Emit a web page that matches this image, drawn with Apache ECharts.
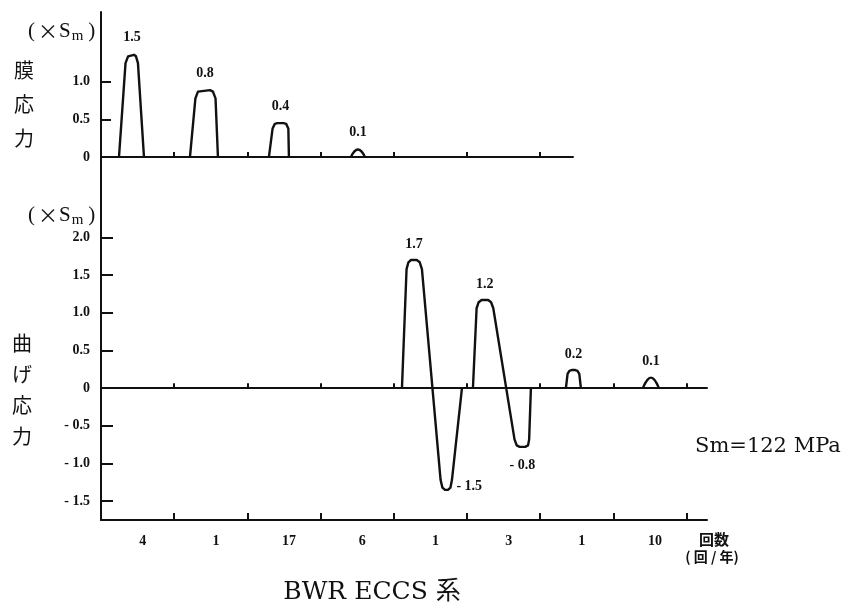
<!DOCTYPE html>
<html>
<head>
<meta charset="utf-8">
<script src="https://cdn.jsdelivr.net/npm/echarts@6/dist/echarts.min.js"></script>
<style>
  html, body { margin: 0; padding: 0; background: #fff; }
  #chart { width: 848px; height: 612px; }
</style>
</head>
<body>
<div id="chart"></div>
<script>
// 回数 (回/年) for each band on the x axis
const cycleLabels = ['4', '1', '17', '6', '1', '3', '1', '10']
const bandTicks = [1, 2, 3, 4, 5, 6, 7, 8]
const memTicks = [0, 0.5, 1.0]
const bendTicks = [-1.5, -1.0, -0.5, 0, 0.5, 1.0, 1.5, 2.0]

// 膜応力 pulses: [x (band units), y (×Sm)]
const memPulses = [
  [[0.246, 0], [0.335, 1.25], [0.370, 1.34], [0.395, 1.36], [0.450, 1.36], [0.478, 1.34], [0.505, 1.25], [0.587, 0]],
  [[1.216, 0], [1.290, 0.78], [1.325, 0.87], [1.352, 0.89], [1.490, 0.89], [1.530, 0.87], [1.565, 0.78], [1.598, 0]],
  [[2.295, 0], [2.345, 0.38], [2.375, 0.44], [2.410, 0.45], [2.495, 0.45], [2.530, 0.44], [2.560, 0.38], [2.568, 0]],
  [[3.415, 0], [3.511, 0.10], [3.607, 0]]
]
const memPeakLabels = ['1.5', '0.8', '0.4', '0.1']

// 曲げ応力 pulses
const bendPulses = [
  [[4.112, 0], [4.175, 1.58], [4.200, 1.67], [4.235, 1.70], [4.315, 1.70], [4.355, 1.67], [4.385, 1.58],
   [4.640, -1.22], [4.665, -1.32], [4.700, -1.35], [4.740, -1.35], [4.775, -1.32], [4.795, -1.22], [4.932, 0]],
  [[5.082, 0], [5.132, 1.06], [5.160, 1.14], [5.200, 1.17], [5.290, 1.17], [5.330, 1.14], [5.360, 1.06],
   [5.650, -0.68], [5.680, -0.76], [5.720, -0.78], [5.795, -0.78], [5.835, -0.76], [5.850, -0.68], [5.874, 0]],
  [[6.352, 0], [6.375, 0.19], [6.400, 0.23], [6.430, 0.24], [6.480, 0.24], [6.510, 0.23], [6.535, 0.19], [6.557, 0]],
  [[7.404, 0], [7.514, 0.14], [7.623, 0]]
]
const bendPeakLabels = ['1.7', '1.2', '0.2', '0.1']
const bendTroughLabels = ['-1.5', '-0.8', null, null]

const INK = '#111'
const labelFont = { fontFamily: 'Liberation Serif', fontWeight: 'bold', fontSize: 14, color: INK }

// x at the flat top (or bottom) of a pulse
const extremePoint = (pts, sign) => {
  const ys = pts.map((p) => p[1] * sign)
  const m = Math.max(...ys)
  const xs = pts.filter((p) => p[1] * sign === m).map((p) => p[0])
  return [xs.reduce((a, b) => a + b, 0) / xs.length, m * sign]
}

const pulseSeries = (pts, gridIdx, marks) => ({
  type: 'line',
  xAxisIndex: gridIdx,
  yAxisIndex: gridIdx,
  data: pts,
  smooth: pts.length === 3,
  showSymbol: false,
  symbol: 'none',
  lineStyle: { color: INK, width: 2.4, join: 'round' },
  animation: false,
  silent: true,
  markPoint: {
    symbol: 'circle',
    symbolSize: 0,
    animation: false,
    data: marks
  }
})

const series = []
memPulses.forEach((pts, i) => {
  series.push(pulseSeries(pts, 0, [
    { coord: extremePoint(pts, 1), label: { show: true, position: 'top', distance: 10, formatter: memPeakLabels[i], ...labelFont } }
  ]))
})
bendPulses.forEach((pts, i) => {
  const marks = [
    { coord: extremePoint(pts, 1), label: { show: true, position: 'top', distance: 9, formatter: bendPeakLabels[i], ...labelFont } }
  ]
  if (bendTroughLabels[i]) {
    const t = bendTroughLabels[i]
    marks.push({
      coord: extremePoint(pts, -1),
      label: {
        show: true,
        position: i === 0 ? 'right' : 'bottom',
        distance: i === 0 ? 10 : 11,
        offset: i === 0 ? [0, -3] : [0, 0],
        formatter: t.replace('-', '- '),
        ...labelFont
      }
    })
  }
  series.push(pulseSeries(pts, 1, marks))
})

const axisLine = { show: true, onZero: false, lineStyle: { color: INK, width: 2 } }
const fmtY = (v) => (v === 0 ? '0' : v < 0 ? '- ' + Math.abs(v).toFixed(1) : v.toFixed(1))

const unitText = (y) => ({
  type: 'text', x: 25, y: y,
  style: {
    text: '{p|(}{x|×}{s|S}{m|m}{p|)}', fill: INK, textVerticalAlign: 'middle',
    rich: {
      p: { font: '21px "Liberation Serif"', padding: [0, 3, 0, 3] },
      x: { font: '20px "Noto Sans CJK JP"', padding: [0, 1, 0, 0] },
      s: { font: '21px "Liberation Serif"' },
      m: { font: '15px "Liberation Serif"', verticalAlign: 'bottom', padding: [11, 2, 0, 1] }
    }
  }
})

const option = {
  backgroundColor: '#fff',
  animation: false,
  grid: [
    { left: 101, top: 12, width: 472, height: 190, outerBoundsMode: 'none' },
    { left: 101, top: 202, width: 606, height: 318, outerBoundsMode: 'none' }
  ],
  xAxis: [
    {
      gridIndex: 0, type: 'value', min: 0, max: 6.45, position: 'bottom',
      axisLine: { ...axisLine, onZero: true },
      axisTick: { show: true, inside: true, length: 5, customValues: bandTicks.slice(0, 6), lineStyle: { color: INK, width: 2 } },
      axisLabel: { show: false },
      splitLine: { show: false }
    },
    {
      gridIndex: 1, type: 'value', min: 0, max: 8.28, position: 'bottom',
      axisLine: axisLine,
      axisTick: { show: true, inside: true, length: 7, customValues: bandTicks, lineStyle: { color: INK, width: 2 } },
      axisLabel: {
        show: true, margin: 14,
        customValues: cycleLabels.map((_, i) => i + 0.57),
        formatter: (v) => cycleLabels[Math.floor(v)],
        ...labelFont
      },
      splitLine: { show: false }
    },
    {
      gridIndex: 1, type: 'value', min: 0, max: 8.28, position: 'top',
      axisLine: { ...axisLine, onZero: true },
      axisTick: { show: true, inside: false, length: 5, customValues: bandTicks, lineStyle: { color: INK, width: 2 } },
      axisLabel: { show: false },
      splitLine: { show: false }
    }
  ],
  yAxis: [
    {
      gridIndex: 0, type: 'value', min: -0.6, max: 1.93,
      axisLine: axisLine,
      axisTick: { show: true, inside: true, length: 10, customValues: [0.5, 1.0], lineStyle: { color: INK, width: 2 } },
      axisLabel: { show: true, margin: 11, customValues: memTicks, formatter: fmtY, ...labelFont },
      splitLine: { show: false }
    },
    {
      gridIndex: 1, type: 'value', min: -1.75, max: 2.47,
      axisLine: axisLine,
      axisTick: { show: true, inside: true, length: 12, customValues: bendTicks, lineStyle: { color: INK, width: 2 } },
      axisLabel: { show: true, margin: 11, customValues: bendTicks, formatter: fmtY, ...labelFont },
      splitLine: { show: false }
    }
  ],
  graphic: [
    unitText(31),
    unitText(215),
    {
      type: 'text', x: 24, y: 53,
      style: { text: '膜\n応\n力', fill: INK, textAlign: 'center', font: '20px "Noto Sans CJK JP"', lineHeight: 34 }
    },
    {
      type: 'text', x: 22, y: 328,
      style: { text: '曲\nげ\n応\n力', fill: INK, textAlign: 'center', font: '20px "Noto Sans CJK JP"', lineHeight: 31 }
    },
    {
      type: 'text', x: 714, y: 539,
      style: { text: '回数', fill: INK, textAlign: 'center', textVerticalAlign: 'middle', font: 'bold 15px "Noto Sans CJK JP"' }
    },
    {
      type: 'text', x: 712, y: 557,
      style: { text: '( 回 / 年)', fill: INK, textAlign: 'center', textVerticalAlign: 'middle', font: 'bold 14px "Noto Sans CJK JP"' }
    },
    {
      type: 'text', x: 695, y: 447,
      style: { text: 'Sm=122 MPa', fill: INK, textVerticalAlign: 'middle', font: '21px "DejaVu Serif"' }
    },
    {
      type: 'text', x: 372, y: 592,
      style: { text: 'BWR ECCS 系', fill: INK, textAlign: 'center', textVerticalAlign: 'middle', font: '25px "DejaVu Serif", "Noto Sans CJK JP"' }
    }
  ],
  series: series
}

const chart = echarts.init(document.getElementById('chart'), null, { renderer: 'canvas' })
chart.setOption(option)
window.addEventListener('resize', () => chart.resize())
</script>
</body>
</html>
